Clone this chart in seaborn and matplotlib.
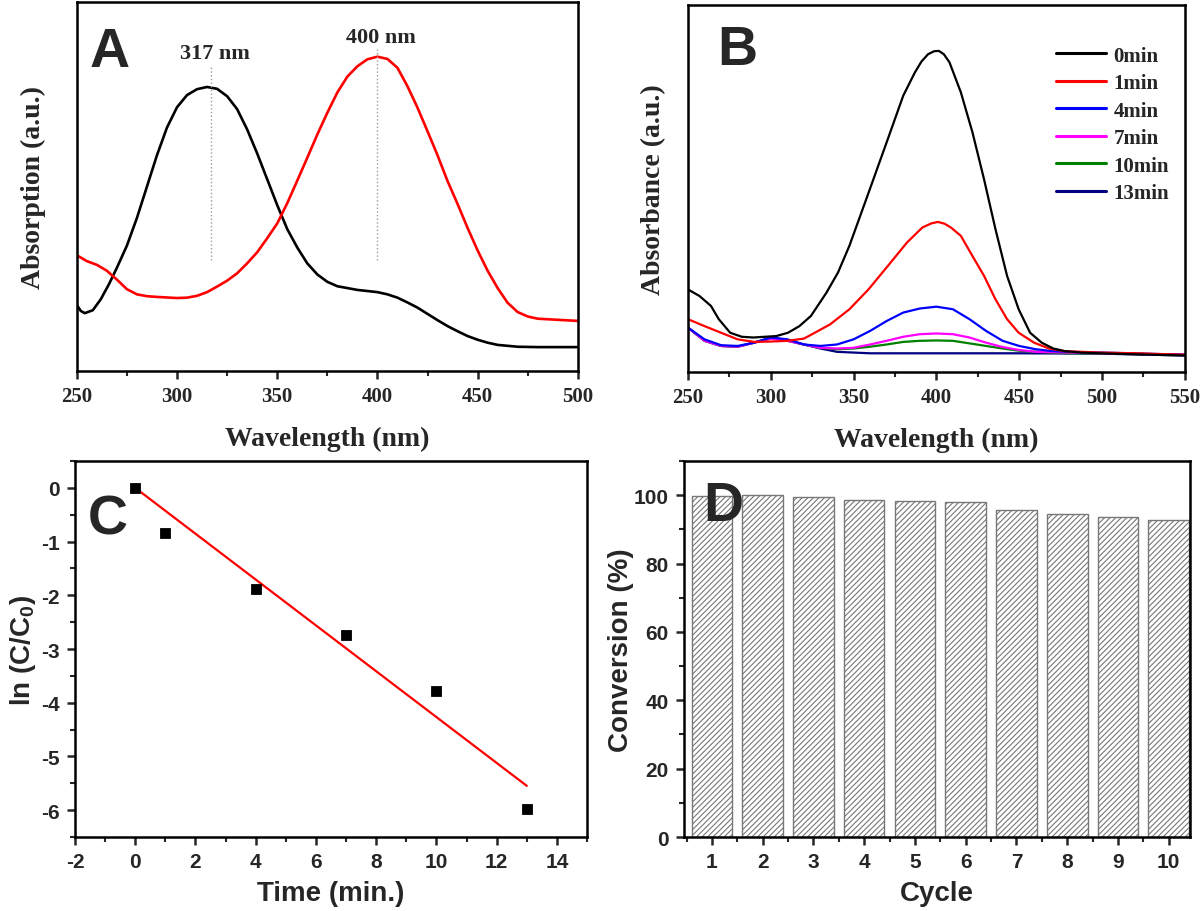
import numpy as np
import pandas as pd
import matplotlib
matplotlib.use("Agg")
import matplotlib.pyplot as plt
from matplotlib.ticker import MultipleLocator, NullLocator
import seaborn as sns

# ---------------- data ----------------
# A: absorption spectra (arbitrary units)
wl_317 = [250, 252, 254, 258, 262, 266, 270, 275, 280, 285, 290, 295, 300, 305, 310, 315,
          320, 325, 330, 335, 340, 345, 350, 355, 360, 365, 370, 375, 380, 390, 400, 405,
          410, 415, 420, 425, 430, 435, 440, 445, 450, 455, 460, 470, 480, 500]
abs_317 = [0.179, 0.163, 0.157, 0.165, 0.195, 0.235, 0.280, 0.340, 0.415, 0.500, 0.585,
           0.660, 0.715, 0.748, 0.764, 0.770, 0.765, 0.745, 0.710, 0.655, 0.590, 0.520,
           0.450, 0.385, 0.335, 0.292, 0.262, 0.242, 0.230, 0.220, 0.214, 0.208, 0.199,
           0.186, 0.172, 0.155, 0.138, 0.122, 0.108, 0.095, 0.085, 0.077, 0.071, 0.066,
           0.065, 0.065]
wl_400 = [250, 255, 260, 265, 270, 275, 280, 285, 290, 300, 305, 310, 315, 320, 325, 330,
          335, 340, 345, 350, 355, 360, 365, 370, 375, 380, 385, 390, 395, 400, 405, 410,
          415, 420, 425, 430, 435, 440, 445, 450, 455, 460, 465, 470, 475, 480, 490, 500]
abs_400 = [0.314, 0.298, 0.288, 0.272, 0.248, 0.222, 0.208, 0.203, 0.201, 0.198, 0.199,
           0.204, 0.214, 0.229, 0.245, 0.265, 0.292, 0.322, 0.360, 0.400, 0.455, 0.516,
           0.578, 0.641, 0.700, 0.755, 0.798, 0.826, 0.845, 0.852, 0.846, 0.822, 0.772,
           0.714, 0.650, 0.585, 0.515, 0.453, 0.388, 0.327, 0.272, 0.225, 0.185, 0.160,
           0.148, 0.142, 0.139, 0.136]

# B: spectra during reduction
b_labels = ["0min", "1min", "4min", "7min", "10min", "13min"]
b_colors = ["#000000", "#ff0000", "#0000ff", "#ff00ff", "#008000", "#000080"]
wl_0 = [250, 257, 263.9, 268.6, 275.5, 282.5, 289.5, 296.4, 303.4, 310.4, 317.3, 324.3,
        333.6, 340.6, 347.5, 359.1, 370.7, 380, 387, 391, 395, 398.6, 401.5, 404.5, 407.9,
        414.8, 421.8, 428.8, 435.7, 442.7, 449.7, 456.6, 463.6, 470.6, 477.5, 486.8,
        498.4, 521.6, 550]
abs_0 = [0.225, 0.207, 0.18, 0.144, 0.107, 0.096, 0.094, 0.096, 0.098, 0.107, 0.125,
         0.153, 0.216, 0.271, 0.344, 0.489, 0.635, 0.753, 0.816, 0.846, 0.866, 0.874,
         0.875, 0.866, 0.844, 0.762, 0.653, 0.525, 0.389, 0.262, 0.171, 0.107, 0.08,
         0.064, 0.057, 0.053, 0.051, 0.048, 0.045]
wl_1 = [250, 260, 270, 280, 290, 300, 310, 320, 326.6, 335.9, 347.5, 359, 370.7, 382.3,
        391.6, 397, 401, 405, 409, 414.8, 421.8, 428.8, 435.7, 442.7, 449.7, 459, 468,
        477, 498, 521, 550]
abs_1 = [0.144, 0.125, 0.107, 0.089, 0.082, 0.083, 0.085, 0.091, 0.107, 0.13, 0.171,
         0.225, 0.289, 0.353, 0.394, 0.405, 0.409, 0.404, 0.393, 0.371, 0.316, 0.262,
         0.198, 0.144, 0.107, 0.08, 0.064, 0.057, 0.053, 0.051, 0.047]
wl_4 = [250, 260, 270, 280, 290, 300, 310, 320, 330, 340, 350, 360, 370, 380, 390, 400,
        410, 420, 430, 440, 450, 460, 470, 480, 500, 550]
abs_4 = [0.121, 0.089, 0.073, 0.071, 0.080, 0.094, 0.089, 0.075, 0.071, 0.075, 0.089,
         0.112, 0.139, 0.162, 0.173, 0.178, 0.171, 0.144, 0.112, 0.085, 0.071, 0.062,
         0.057, 0.055, 0.053, 0.047]
wl_7 = [250, 260, 270, 280, 290, 300, 310, 320, 330, 340, 350, 360, 370, 380, 390, 400,
        410, 420, 430, 440, 450, 460, 480, 500, 550]
abs_7 = [0.121, 0.085, 0.071, 0.069, 0.080, 0.091, 0.085, 0.075, 0.066, 0.064, 0.066,
         0.075, 0.085, 0.096, 0.103, 0.105, 0.103, 0.094, 0.080, 0.068, 0.060, 0.055,
         0.053, 0.051, 0.047]
wl_10 = [250, 260, 270, 280, 290, 300, 310, 320, 330, 340, 350, 360, 370, 380, 390, 400,
         410, 420, 430, 440, 450, 460, 480, 500, 550]
abs_10 = [0.121, 0.085, 0.071, 0.069, 0.080, 0.091, 0.085, 0.075, 0.066, 0.062, 0.064,
          0.069, 0.075, 0.082, 0.085, 0.086, 0.085, 0.078, 0.071, 0.064, 0.058, 0.055,
          0.051, 0.051, 0.047]
wl_13 = [250, 260, 270, 280, 290, 300, 310, 320, 330, 340, 350, 360, 380, 400, 450, 500, 550]
abs_13 = [0.121, 0.085, 0.071, 0.069, 0.080, 0.094, 0.087, 0.075, 0.064, 0.055, 0.053,
          0.051, 0.051, 0.051, 0.051, 0.050, 0.045]

# C: kinetics
time_min = [0, 1, 4, 7, 10, 13]
ln_ratio = [0, -0.84, -1.88, -2.74, -3.78, -5.97]

# D: recycling
cycles = [1, 2, 3, 4, 5, 6, 7, 8, 9, 10]
conversion = [99.8, 100.0, 99.5, 98.6, 98.2, 97.9, 95.8, 94.6, 93.7, 92.6]

# ---------------- style ----------------
sns.set_theme(style="ticks")
plt.rcParams["font.family"] = ["Liberation Sans", "DejaVu Sans"]
plt.rcParams["font.weight"] = "bold"
plt.rcParams["axes.labelweight"] = "bold"
plt.rcParams["axes.unicode_minus"] = False
plt.rcParams["axes.linewidth"] = 1.8
plt.rcParams["mathtext.fontset"] = "custom"
plt.rcParams["mathtext.rm"] = "Liberation Sans:bold"
plt.rcParams["mathtext.bf"] = "Liberation Sans:bold"
plt.rcParams["mathtext.default"] = "bf"
plt.rcParams["hatch.linewidth"] = 0.8

SERIF = "Liberation Serif"

fig = plt.figure(figsize=(12, 9.12), dpi=100)
ax_a = fig.add_axes([0.064, 0.592, 0.4175, 0.4046])
ax_b = fig.add_axes([0.5733, 0.591, 0.414, 0.4024])
ax_c = fig.add_axes([0.0625, 0.0811, 0.4267, 0.4123])
ax_d = fig.add_axes([0.570, 0.0811, 0.4217, 0.4123])


def style_ticks(ax, size, family, major=6, minor=3.5):
    ax.tick_params(axis="both", which="major", direction="out", length=major, width=1.8,
                   labelsize=size, pad=5)
    ax.tick_params(axis="both", which="minor", direction="out", length=minor, width=1.5)
    for lab in ax.get_xticklabels() + ax.get_yticklabels():
        lab.set_fontfamily(family)
        lab.set_fontweight("bold")


# ---- A ----
sns.lineplot(x=wl_317, y=abs_317, color="black", lw=1.9, ax=ax_a, sort=False)
sns.lineplot(x=wl_400, y=abs_400, color="#ff0000", lw=1.9, ax=ax_a, sort=False)
for pk, top, lbl, ty in [(317, 0.83, "317 nm", 0.861), (400, 0.874, "400 nm", 0.906)]:
    ax_a.plot([pk, pk], [0.30, top], ls=":", color="#9a9a9a", lw=1)
    ax_a.text(pk + 2, ty, lbl, ha="center", va="center", fontsize=16,
              fontfamily=SERIF, fontweight="bold")
ax_a.set_xlim(250, 500)
ax_a.set_ylim(0, 1)
ax_a.xaxis.set_major_locator(MultipleLocator(50))
ax_a.xaxis.set_minor_locator(MultipleLocator(25))
ax_a.yaxis.set_major_locator(NullLocator())
ax_a.set_xlabel("Wavelength (nm)", fontsize=20, fontfamily=SERIF, labelpad=14)
ax_a.set_ylabel("Absorption (a.u.)", fontsize=20, fontfamily=SERIF, labelpad=22)
style_ticks(ax_a, 15, SERIF)
ax_a.text(0.026, 0.865, "A", transform=ax_a.transAxes, fontsize=40, fontweight="bold",
          ha="left", va="center")

# ---- B ----
series_b = [(wl_0, abs_0), (wl_1, abs_1), (wl_4, abs_4), (wl_7, abs_7),
            (wl_10, abs_10), (wl_13, abs_13)]
df_b = pd.concat([pd.DataFrame({"wl": w, "A": a, "t": lab})
                  for (w, a), lab in zip(series_b, b_labels)], ignore_index=True)
sns.lineplot(data=df_b, x="wl", y="A", hue="t", hue_order=b_labels[::-1],
             palette=dict(zip(b_labels, b_colors)), lw=1.6, ax=ax_b)
ax_b.set_xlim(250, 550)
ax_b.set_ylim(0, 1)
ax_b.xaxis.set_major_locator(MultipleLocator(50))
ax_b.xaxis.set_minor_locator(MultipleLocator(25))
ax_b.yaxis.set_major_locator(NullLocator())
ax_b.set_xlabel("Wavelength (nm)", fontsize=20, fontfamily=SERIF, labelpad=14)
ax_b.set_ylabel("Absorbance (a.u.)", fontsize=20, fontfamily=SERIF, labelpad=16)
style_ticks(ax_b, 15, SERIF)
handles, labels = ax_b.get_legend_handles_labels()
order = [labels.index(l) for l in b_labels]
leg = ax_b.legend([handles[i] for i in order], b_labels, loc="upper left",
                  bbox_to_anchor=(0.703, 0.94), frameon=False, handlelength=2.4,
                  handletextpad=0.35, labelspacing=0.36,
                  prop={"family": SERIF, "weight": "bold", "size": 15})
for ln in leg.get_lines():
    ln.set_linewidth(2.2)
ax_b.text(0.058, 0.878, "B", transform=ax_b.transAxes, fontsize=40, fontweight="bold",
          ha="left", va="center")

# ---- C ----
t = np.array(time_min, dtype=float)
y = np.array(ln_ratio, dtype=float)
k = (t * y).sum() / (t * t).sum()   # first-order fit through origin
sns.lineplot(x=[t.min(), t.max()], y=[k * t.min(), k * t.max()], color="#ff0000",
             lw=1.6, ax=ax_c)
sns.scatterplot(x=time_min, y=ln_ratio, marker="s", color="black", s=55,
                edgecolor="black", ax=ax_c, zorder=3)
ax_c.set_xlim(-2, 15)
ax_c.set_ylim(-6.5, 0.5)
ax_c.xaxis.set_major_locator(MultipleLocator(2))
ax_c.xaxis.set_minor_locator(MultipleLocator(1))
ax_c.yaxis.set_major_locator(MultipleLocator(1))
ax_c.yaxis.set_minor_locator(MultipleLocator(0.5))
ax_c.set_xlabel("Time (min.)", fontsize=20, labelpad=6)
ax_c.set_ylabel("ln (C/C$_{0}$)", fontsize=20, labelpad=2)
style_ticks(ax_c, 15, "Liberation Sans")
ax_c.text(0.025, 0.845, "C", transform=ax_c.transAxes, fontsize=40, fontweight="bold",
          ha="left", va="center")

# ---- D ----
sns.barplot(x=cycles, y=conversion, native_scale=True, color="white", width=0.8,
            edgecolor="#777777", linewidth=1.0, hatch="//////", ax=ax_d, errorbar=None)
for p in ax_d.patches:
    p.set_facecolor("white")
ax_d.set_xlim(0.45, 10.42)
ax_d.set_ylim(0, 110)
ax_d.xaxis.set_major_locator(MultipleLocator(1))
ax_d.xaxis.set_minor_locator(MultipleLocator(0.5))
ax_d.yaxis.set_major_locator(MultipleLocator(20))
ax_d.yaxis.set_minor_locator(MultipleLocator(10))
ax_d.set_xlabel("Cycle", fontsize=20, labelpad=6)
ax_d.set_ylabel("Conversion (%)", fontsize=20, labelpad=0)
style_ticks(ax_d, 15, "Liberation Sans")
ax_d.text(0.038, 0.88, "D", transform=ax_d.transAxes, fontsize=40, fontweight="bold",
          ha="left", va="center", zorder=5)

for ax in (ax_a, ax_b, ax_c, ax_d):
    for sp in ax.spines.values():
        sp.set_visible(True)
        sp.set_linewidth(1.8)
        sp.set_color("black")
    ax.tick_params(top=False, right=False, which="both")

fig.savefig("out.png", dpi=100)
